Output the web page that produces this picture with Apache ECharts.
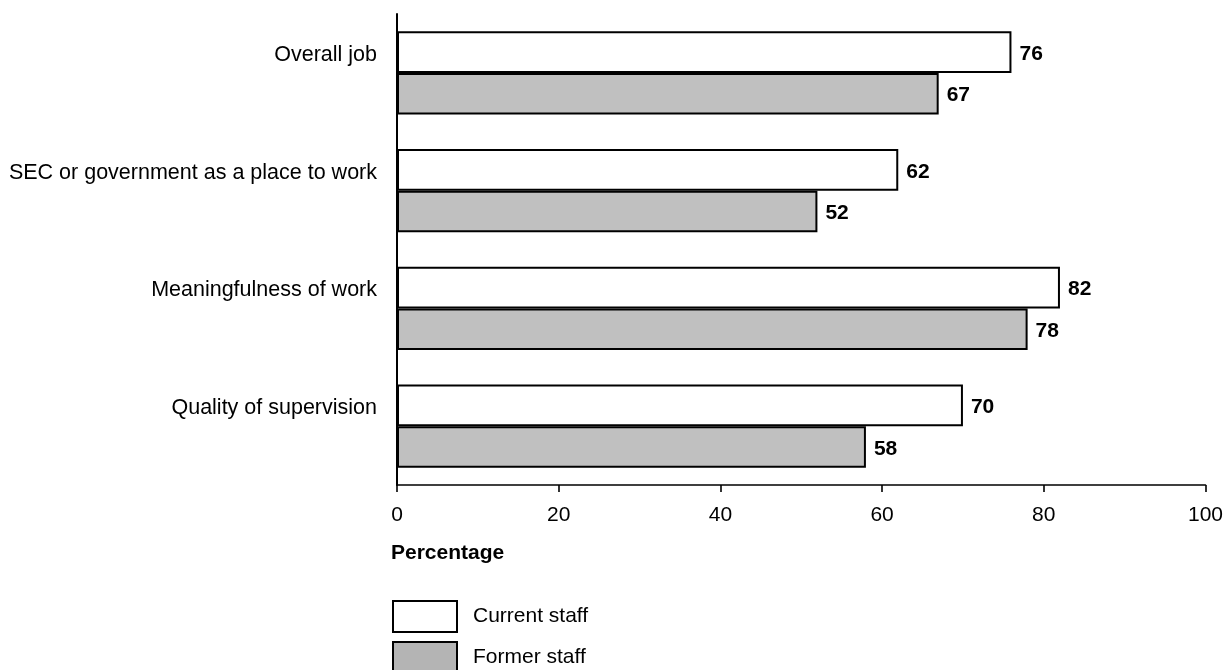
<!DOCTYPE html>
<html>
<head>
<meta charset="utf-8">
<script src="https://cdn.jsdelivr.net/npm/echarts@6/dist/echarts.min.js"></script>
<style>
html,body{margin:0;padding:0;background:#fff;}
#chart{width:1226px;height:670px;}
</style>
</head>
<body>
<div id="chart"></div>
<script>
const categories = ['Overall job', 'SEC or government as a place to work', 'Meaningfulness of work', 'Quality of supervision'];
const currentStaff = [76, 62, 82, 70];
const formerStaff = [67, 52, 78, 58];
const seriesNames = ['Current staff', 'Former staff'];
const axisTitle = 'Percentage';

const FONT = '"Liberation Sans", Arial, Helvetica, sans-serif';
const chart = echarts.init(document.getElementById('chart'), null, {renderer: 'canvas'});

const labelCfg = {
  show: true,
  position: 'right',
  distance: 8,
  offset: [0, 2],
  color: '#000',
  fontFamily: FONT,
  fontWeight: 'bold',
  fontSize: 21
};

chart.setOption({
  animation: false,
  backgroundColor: '#fff',
  textStyle: {fontFamily: FONT},
  grid: {left: 397, top: 14, right: 20, bottom: 185, containLabel: false},
  title: {
    text: axisTitle,
    left: 391,
    top: 543,
    padding: 0,
    textStyle: {fontFamily: FONT, fontSize: 21, fontWeight: 'bold', color: '#000'}
  },
  legend: {
    orient: 'vertical',
    left: 392,
    top: 600,
    height: 200,
    padding: 0,
    itemWidth: 64,
    itemHeight: 31,
    itemGap: 8,
    icon: 'rect',
    selectedMode: false,
    textStyle: {fontFamily: FONT, fontSize: 21, color: '#000', padding: [0, 0, 0, 11]},
    data: [
      {name: seriesNames[0], itemStyle: {color: '#fff', borderColor: '#000', borderWidth: 2}},
      {name: seriesNames[1], itemStyle: {color: '#b4b4b4', borderColor: '#000', borderWidth: 2}}
    ]
  },
  xAxis: {
    type: 'value',
    min: 0,
    max: 100,
    interval: 20,
    splitLine: {show: false},
    axisLine: {show: true, lineStyle: {color: '#000', width: 1.6}},
    axisTick: {show: true, inside: false, length: 7, lineStyle: {color: '#000', width: 1.6}},
    axisLabel: {color: '#000', fontFamily: FONT, fontSize: 21, margin: 20}
  },
  yAxis: {
    type: 'category',
    data: categories,
    inverse: true,
    axisLine: {show: true, lineStyle: {color: '#000', width: 2}},
    axisTick: {show: false},
    axisLabel: {color: '#000', fontFamily: FONT, fontSize: 21.5, margin: 20, verticalAlign: 'bottom', lineHeight: 36}
  },
  series: [
    {
      name: seriesNames[0],
      type: 'bar',
      data: currentStaff,
      barGap: '0%',
      barCategoryGap: '29.5%',
      itemStyle: {color: '#fff', borderColor: '#000', borderWidth: 2},
      label: labelCfg
    },
    {
      name: seriesNames[1],
      type: 'bar',
      data: formerStaff,
      barGap: '0%',
      barCategoryGap: '29.5%',
      itemStyle: {color: '#c0c0c0', borderColor: '#000', borderWidth: 2},
      label: labelCfg
    }
  ]
});
</script>
</body>
</html>
